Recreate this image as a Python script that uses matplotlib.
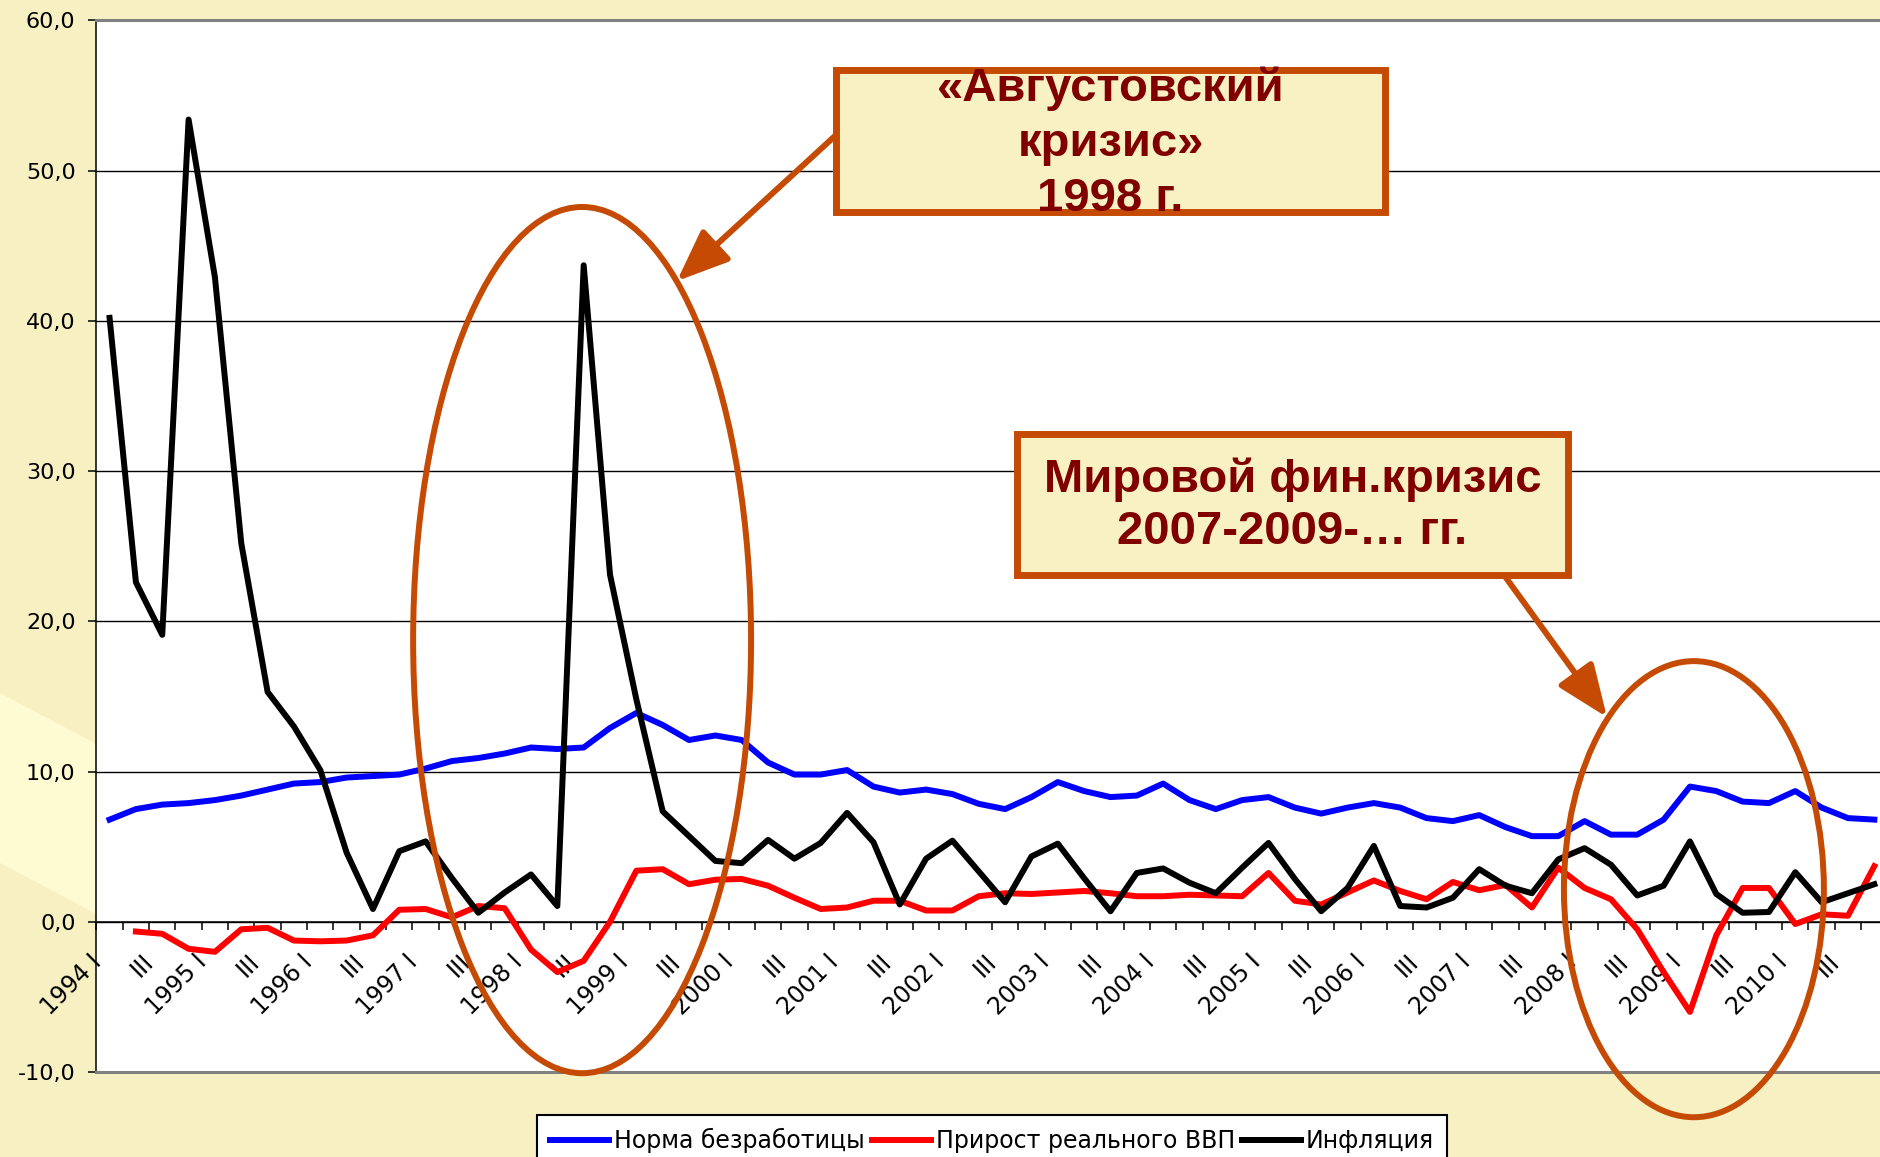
import matplotlib.pyplot as plt
import numpy as np
from matplotlib import font_manager
from matplotlib.patches import Ellipse, Rectangle, Polygon
from matplotlib.transforms import ScaledTranslation

# квартальные данные 1994 I - 2010 IV
years = list(range(1994, 2011))
quarters = ['I', 'II', 'III', 'IV']
quarter_labels = []
for y in years:
    for q in quarters:
        if q == 'I':
            quarter_labels.append(f'{y} I')
        elif q == 'III':
            quarter_labels.append('III')
        else:
            quarter_labels.append('')

# Норма безработицы
unemployment = [6.8, 7.5, 7.8, 7.9, 8.1, 8.4, 8.8, 9.2, 9.3, 9.6, 9.7, 9.8,
                10.2, 10.7, 10.9, 11.2, 11.6, 11.5, 11.6, 12.9, 13.9, 13.1, 12.1, 12.4,
                12.1, 10.6, 9.8, 9.8, 10.1, 9.0, 8.6, 8.8, 8.5, 7.85, 7.5, 8.3,
                9.3, 8.7, 8.3, 8.4, 9.2, 8.1, 7.5, 8.1, 8.3, 7.6, 7.2, 7.6,
                7.9, 7.6, 6.9, 6.7, 7.1, 6.3, 5.7, 5.7, 6.7, 5.8, 5.8, 6.8,
                9.0, 8.7, 8.0, 7.9, 8.7, 7.6, 6.9, 6.8]
# Прирост реального ВВП
gdp_growth = [np.nan, -0.65, -0.8, -1.8, -2.0, -0.5, -0.4, -1.25, -1.3, -1.25, -0.9, 0.8,
              0.85, 0.3, 1.05, 0.9, -1.85, -3.35, -2.6, 0.0, 3.4, 3.5, 2.5, 2.8,
              2.85, 2.4, 1.6, 0.85, 0.95, 1.4, 1.4, 0.75, 0.75, 1.7, 1.9, 1.85,
              1.95, 2.05, 1.9, 1.7, 1.7, 1.8, 1.75, 1.7, 3.25, 1.4, 1.15, 1.95,
              2.75, 2.05, 1.5, 2.65, 2.1, 2.45, 0.95, 3.6, 2.25, 1.5, -0.5, -3.35,
              -6.0, -0.9, 2.25, 2.25, -0.15, 0.5, 0.4, 3.7]
# Инфляция
inflation = [40.2, 22.6, 19.1, 53.4, 42.9, 25.2, 15.3, 13.0, 10.1, 4.6, 0.85, 4.7,
             5.35, 2.9, 0.6, 1.95, 3.15, 1.05, 43.7, 23.1, 14.8, 7.35, 5.7, 4.05,
             3.9, 5.45, 4.2, 5.25, 7.25, 5.3, 1.15, 4.2, 5.4, 3.35, 1.3, 4.35,
             5.2, 2.9, 0.7, 3.25, 3.55, 2.6, 1.9, 3.6, 5.25, 2.85, 0.7, 2.25,
             5.05, 1.05, 0.95, 1.6, 3.5, 2.4, 1.9, 4.15, 4.9, 3.8, 1.75, 2.4,
             5.35, 1.85, 0.6, 0.65, 3.3, 1.3, 1.9, 2.5]

series_names = ['Норма безработицы', 'Прирост реального ВВП', 'Инфляция']
y_ticks = list(range(-10, 61, 10))

bg = '#F6F0C3'
orange = '#C54B04'
dark_red = '#800000'

fonts = {f.name for f in font_manager.fontManager.ttflist}
if 'Liberation Sans Narrow' in fonts:
    box_font, box_size = 'Liberation Sans Narrow', 41
else:
    box_font, box_size = 'Liberation Sans', 34

plt.rcParams['font.family'] = ['DejaVu Sans']

fig = plt.figure(figsize=(18.8, 11.57), dpi=100, facecolor=bg)
W, H = 1880, 1157

# светлая полоса фона слайда
band = Polygon([(0, 1 - 693 / H), (300 / W, 1 - 852 / H), (300 / W, 1 - 1022 / H), (0, 1 - 863 / H)],
               closed=True, transform=fig.transFigure, facecolor='#FEFBD3', edgecolor='none', zorder=-1)
fig.patches.append(band)

ax = fig.add_axes([96.4 / W, 1 - 1072 / H, (1887.5 - 96.4) / W, (1072 - 20.4) / H])
ax.set_facecolor('white')

x = np.arange(len(quarter_labels))
ax.plot(x, unemployment, color='#0000FF', lw=4.3, label=series_names[0], zorder=3)
ax.plot(x, gdp_growth, color='#FF0000', lw=4.3, label=series_names[1], zorder=3)
ax.plot(x, inflation, color='black', lw=4.3, label=series_names[2], zorder=3)

ax.set_xlim(-0.5, len(x) - 0.5)
ax.set_ylim(-10, 60)

ax.set_yticks(y_ticks)
ax.set_yticklabels([f'{v:.1f}'.replace('.', ',') for v in y_ticks])
ax.yaxis.grid(True, color='black', lw=1.0)
ax.set_axisbelow(True)
ax.tick_params(axis='y', length=6, width=1.1, pad=9, labelsize=16)

ax.spines['bottom'].set_position(('data', 0))
ax.spines['bottom'].set_linewidth(1.1)
ax.spines['left'].set_linewidth(1.1)
ax.spines['top'].set_visible(False)
ax.spines['right'].set_visible(False)

ax.set_xticks(x[::2])
ax.set_xticklabels(quarter_labels[::2], rotation=45, ha='right', va='center',
                   rotation_mode='anchor', fontsize=17)
ax.set_xticks(np.arange(-0.5, len(x)), minor=True)
ax.tick_params(axis='x', which='major', length=0, pad=26)
ax.tick_params(axis='x', which='minor', length=6, width=1.1, direction='out')
shift = ScaledTranslation(-0.12, 0, fig.dpi_scale_trans)
for lab in ax.get_xticklabels():
    lab.set_transform(lab.get_transform() + shift)

# рамка области построения сверху и снизу
ax.axhline(60, color='#808080', lw=2.2, clip_on=False, zorder=4)
ax.axhline(-10, color='#808080', lw=2.2, clip_on=False, zorder=4)

# выделение кризисов
ax.add_patch(Ellipse((17.94, 18.75), 12.83, 57.66, fill=False, edgecolor=orange, lw=4.3,
                     clip_on=False, zorder=6))
ax.add_patch(Ellipse((60.15, 2.17), 9.87, 30.36, fill=False, edgecolor=orange, lw=4.3,
                     clip_on=False, zorder=6))

arrow = dict(arrowstyle='-|>,head_length=32,head_width=13', lw=4.3, color=orange,
             mutation_scale=1, shrinkA=0, shrinkB=0)
ax.annotate('', xy=(21.54, 42.65), xytext=(27.58, 52.37), arrowprops=arrow,
            annotation_clip=False, zorder=6)
ax.annotate('', xy=(56.85, 13.62), xytext=(52.94, 23.08), arrowprops=arrow,
            annotation_clip=False, zorder=6)

ax.add_patch(Rectangle((27.58, 47.24), 20.84, 9.46, facecolor='#F7F1C3', edgecolor=orange,
                       lw=5, clip_on=False, zorder=7))
ax.text(38.0, 51.8, '«Августовский\nкризис»\n1998 г.', ha='center', va='center',
        fontsize=box_size, fontweight='bold', color=dark_red, family=box_font,
        linespacing=1.32, zorder=8)

ax.add_patch(Rectangle((34.45, 23.08), 20.92, 9.38, facecolor='#F7F1C3', edgecolor=orange,
                       lw=5, clip_on=False, zorder=7))
ax.text(44.91, 27.7, 'Мировой фин.кризис\n2007-2009-… гг.', ha='center', va='center',
        fontsize=box_size, fontweight='bold', color=dark_red, family=box_font,
        linespacing=1.22, zorder=8)

leg = fig.legend(loc='upper center', bbox_to_anchor=(992 / W, 1 - 1115 / H), ncol=3,
                 fontsize=17, frameon=True, fancybox=False, edgecolor='black', framealpha=1,
                 handlelength=2.5, handletextpad=0.2, columnspacing=0.3, borderpad=0.55,
                 borderaxespad=0)
leg.get_frame().set_linewidth(1.5)

fig.savefig('out.png', dpi=100, facecolor=bg)
